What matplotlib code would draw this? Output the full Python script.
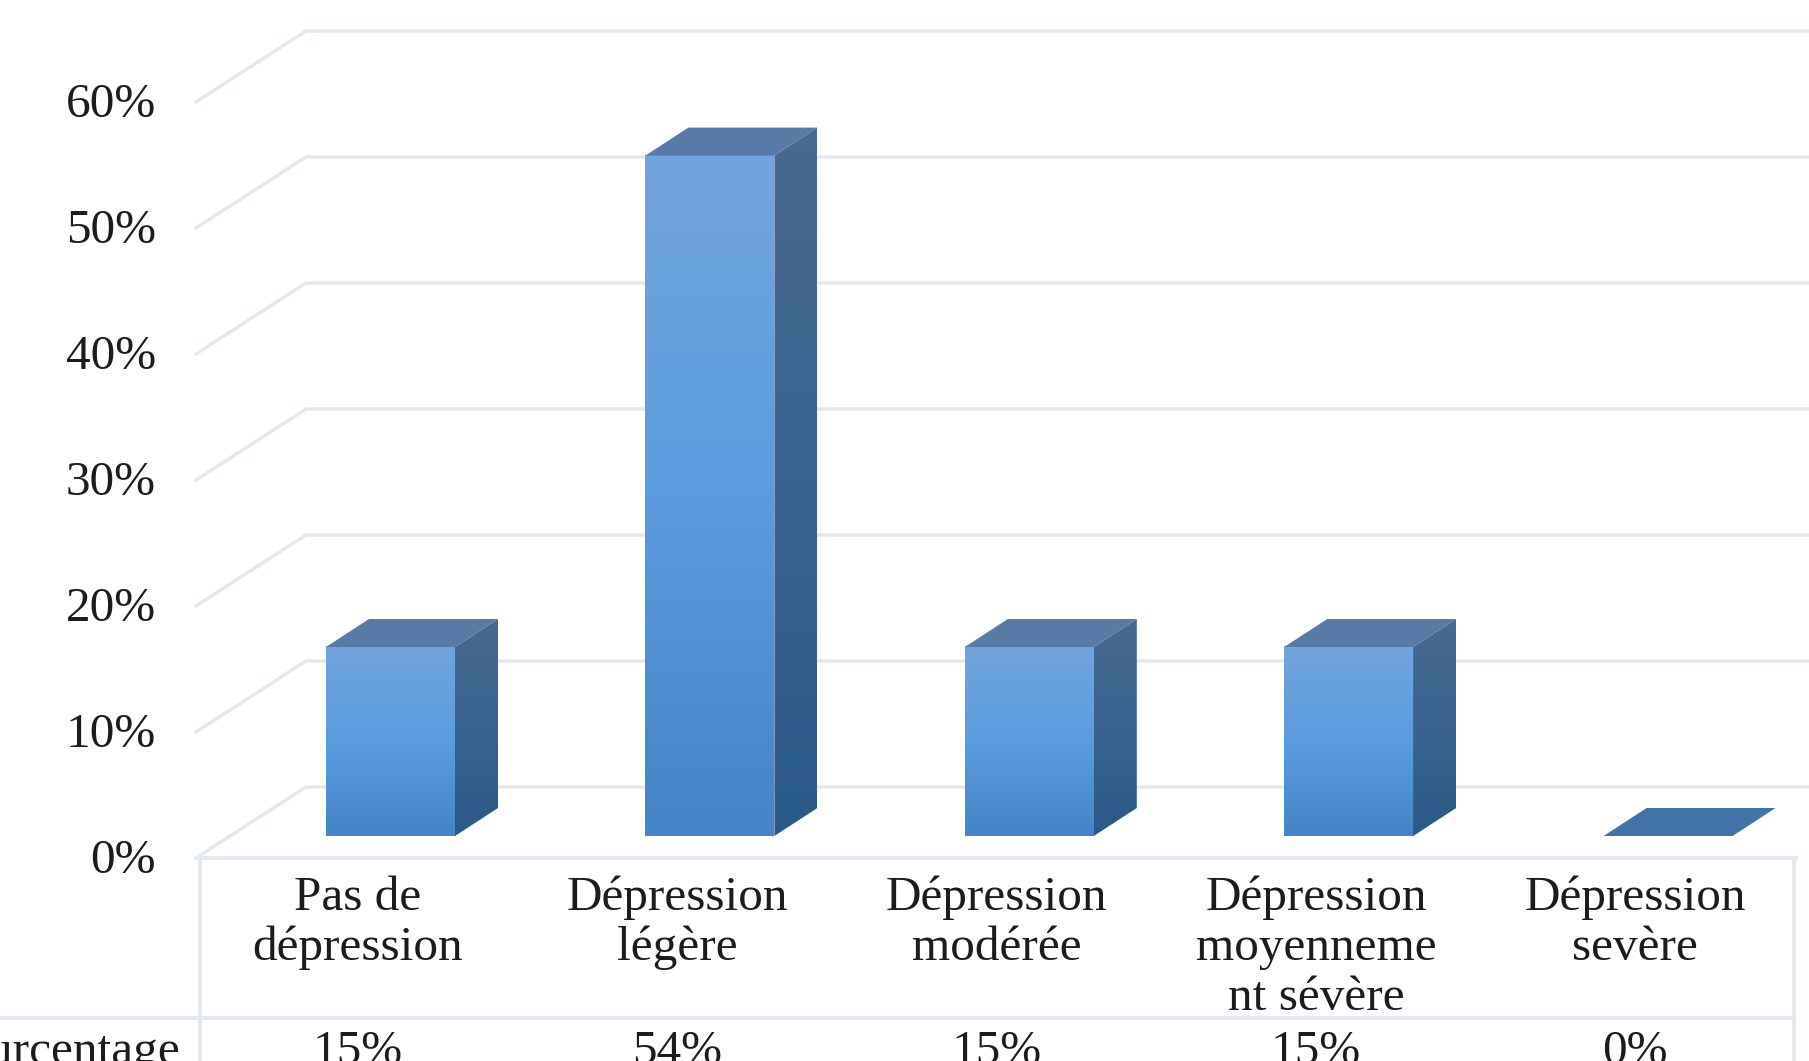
import numpy as np
import matplotlib
matplotlib.use("Agg")
import matplotlib.pyplot as plt
from matplotlib.colors import LinearSegmentedColormap
from matplotlib.patches import Polygon

categories = ["Pas de\ndépression", "Dépression\nlégère", "Dépression\nmodérée",
              "Dépression\nmoyenneme\nnt sévère", "Dépression\nsevère"]
values = [15, 54, 15, 15, 0]
y_ticks = [0, 10, 20, 30, 40, 50, 60]
row_title = "Pourcentage"

W, H = 1809, 1061
X0, CAT = 200.0, 319.4     # pixel position of category 0 and width of a category
Y0, UNIT = 858.0, 12.6     # pixel position of 0 % and pixels per percent

plt.rcParams["font.family"] = ["Liberation Serif", "DejaVu Serif"]
fig = plt.figure(figsize=(W / 100, H / 100), dpi=100, facecolor="white")
ax = fig.add_axes([0, 0, 1, 1])
xlim = (-X0 / CAT, (W - X0) / CAT)
ylim = ((Y0 - H) / UNIT, Y0 / UNIT)
ax.set_axis_off()


def dx(px):
    return px / CAT


def dv(px):
    return px / UNIT


def vy(py):
    return (Y0 - py) / UNIT


GRID = "#e3e7ef"
LW = 2.5
TEXT = "#1c1c1c"
FS = 35.5

# back wall and side wall gridlines
wall_x, wall_v = dx(106), dv(71)
for v in y_ticks:
    ax.plot([dx(-4), wall_x, xlim[1]], [v, v + wall_v, v + wall_v], color=GRID, lw=LW,
            solid_joinstyle="miter", zorder=1)

# data table lines
right = 5 - dx(3)
ax.plot([dx(-3), right + dx(2)], [0, 0], color=GRID, lw=LW + 0.3, zorder=1)
ax.plot([xlim[0], right], [vy(1018), vy(1018)], color=GRID, lw=LW + 0.3, zorder=1)
for x in (0, right):
    ax.plot([x, x], [0, ylim[0]], color=GRID, lw=LW + 0.3, zorder=1)

# bars
front_cm = LinearSegmentedColormap.from_list("f", ["#4485c8", "#5a9cdf", "#72a5dc"])
side_cm = LinearSegmentedColormap.from_list("s", ["#2a5a88", "#38648f", "#48698f"])
grad = np.linspace(1, 0, 128).reshape(-1, 1)
bar_w, bar_off = dx(129), dx(126)
bar_lift = dv(22)
depth_x, depth_v = dx(43), dv(28)

for i, val in enumerate(values):
    l, r = i + bar_off, i + bar_off + bar_w
    b, t = bar_lift, bar_lift + val
    if val == 0:
        ax.add_patch(Polygon([(l, b), (r, b), (r + depth_x, b + depth_v), (l + depth_x, b + depth_v)],
                             closed=True, fc="#4273a6", ec="none", zorder=3))
        continue
    ax.imshow(grad, extent=(l, r, b, t), cmap=front_cm, aspect="auto", zorder=3, vmin=0, vmax=1)
    side = Polygon([(r, b), (r + depth_x, b + depth_v), (r + depth_x, t + depth_v), (r, t)],
                   closed=True, fc="none", ec="none", transform=ax.transData)
    ax.add_patch(side)
    im = ax.imshow(grad, extent=(r, r + depth_x, b, t + depth_v), cmap=side_cm, aspect="auto",
                   zorder=3, vmin=0, vmax=1)
    im.set_clip_path(side)
    ax.add_patch(Polygon([(l, t), (r, t), (r + depth_x, t + depth_v), (l + depth_x, t + depth_v)],
                         closed=True, fc="#567ba6", ec="none", zorder=3))

ax.set_xlim(*xlim)
ax.set_ylim(*ylim)

# axis labels
for v in y_ticks:
    ax.text(dx(156 - X0), v - dv(15), f"{v}%", ha="right", va="baseline",
            fontsize=FS, color=TEXT, zorder=5)

# table text
line_y = [910, 960, 1010]
for i, (name, val) in enumerate(zip(categories, values)):
    cx = i + 0.5 - dx(2)
    for j, part in enumerate(name.split("\n")):
        ax.text(cx, vy(line_y[j]), part, ha="center", va="baseline",
                fontsize=FS, color=TEXT, zorder=5)
    ax.text(cx, vy(1064), f"{val}%", ha="center", va="baseline",
            fontsize=FS, color=TEXT, zorder=5)
ax.text(dx(180 - X0), vy(1064), row_title, ha="right", va="baseline",
        fontsize=FS, color=TEXT, zorder=5)

fig.savefig("out.png", dpi=100, facecolor="white")
